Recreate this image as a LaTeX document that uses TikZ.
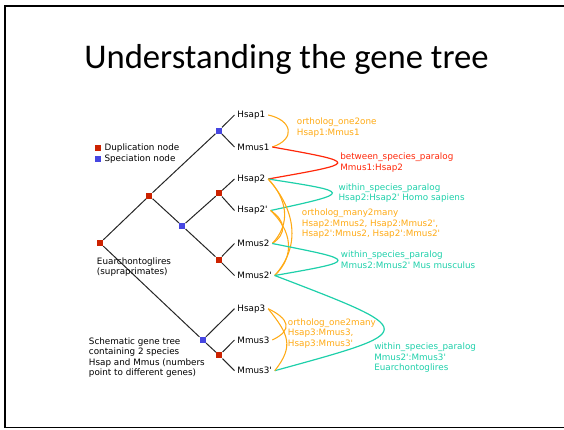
\documentclass[tikz,border=0pt]{standalone}
\usepackage{fontspec}
\setmainfont{DejaVu Sans}[Ligatures=TeXOff]
\newfontfamily\titlefont{Carlito}
\usetikzlibrary{positioning}
\definecolor{dupred}{RGB}{204,34,0}
\definecolor{specblue}{RGB}{70,70,225}
\definecolor{orthocol}{RGB}{255,170,20}
\definecolor{paracol}{RGB}{255,40,10}
\definecolor{withincol}{RGB}{30,208,170}
\tikzset{
 dup/.style={fill=dupred,inner sep=0pt,minimum size=4.5pt},
 spec/.style={fill=specblue,inner sep=0pt,minimum size=4.5pt},
 leaf/.style={anchor=west,inner xsep=2pt,inner ysep=1pt,font=\fontsize{6.6}{7.8}\selectfont},
 note/.style={anchor=west,inner sep=0pt,align=left,font=\fontsize{6.6}{7.9}\selectfont},
 branch/.style={draw=black!85,line width=0.75pt},
 ortho/.style={draw=orthocol,line width=0.8pt},
 betw/.style={draw=paracol,line width=0.9pt},
 within/.style={draw=withincol,line width=0.9pt}
}

\begin{document}
\begin{tikzpicture}[x=0.75pt,y=-0.75pt]
 \useasboundingbox (0,0) rectangle (564,429);
 \draw[line width=1.2pt] (564,5.8) -| (5,427.5) -- (564,427.5);
 \node[font=\titlefont\fontsize{26}{31}\selectfont,anchor=base] (title) at (286.5,68.3) {Understanding the gene tree};

 \node[dup] (legdup) at (98,147.7) {};
 \node[spec] (legspec) at (98,158.7) {};
 \node[note] (legduptxt) at (104.3,147.7) {Duplication node};
 \node[note] (legspectxt) at (104.3,158.7) {Speciation node};

 \node[dup] (root) at (100,243) {};
 \node[dup] (duptop) at (149.3,195.7) {};
 \node[spec] (specA) at (218.7,130.7) {};
 \node[spec] (specB) at (182.3,226) {};
 \node[dup] (dupB) at (219,193.3) {};
 \node[dup] (dupC) at (218.7,259.7) {};
 \node[spec] (specC) at (202.7,340) {};
 \node[dup] (dupD) at (219.3,355.3) {};

 \node[leaf] (hsapA) at (234.5,115) {Hsap1};
 \node[leaf] (mmusA) at (234.5,147) {Mmus1};
 \node[leaf] (hsapB) at (234.5,179) {Hsap2};
 \node[leaf] (hsapBp) at (234.5,210.5) {Hsap2'};
 \node[leaf] (mmusB) at (234.5,243.5) {Mmus2};
 \node[leaf] (mmusBp) at (234.5,275.5) {Mmus2'};
 \node[leaf] (hsapC) at (234.5,308.7) {Hsap3};
 \node[leaf] (mmusC) at (234.5,340) {Mmus3};
 \node[leaf] (mmusCp) at (234.5,370.7) {Mmus3'};

 \draw[branch] (root) -- (duptop);
 \draw[branch] (root) -- (specC);
 \draw[branch] (duptop) -- (specA);
 \draw[branch] (duptop) -- (specB);
 \draw[branch] (specA) -- (hsapA.west);
 \draw[branch] (specA) -- (mmusA.west);
 \draw[branch] (specB) -- (dupB);
 \draw[branch] (specB) -- (dupC);
 \draw[branch] (dupB) -- (hsapB.west);
 \draw[branch] (dupB) -- (hsapBp.west);
 \draw[branch] (dupC) -- (mmusB.west);
 \draw[branch] (dupC) -- (mmusBp.west);
 \draw[branch] (specC) -- (hsapC.west);
 \draw[branch] (specC) -- (dupD);
 \draw[branch] (dupD) -- (mmusC.west);
 \draw[branch] (dupD) -- (mmusCp.west);

 \node[note] (euarch) at (96.7,267.2) {Euarchontoglires\\(supraprimates)};
 \node[note,font=\fontsize{6.6}{7.6}\selectfont] (schema) at (88.7,357.5) {Schematic gene tree\\containing 2 species\\Hsap and Mmus (numbers\\point to different genes)};

 \draw[ortho] (hsapA.east) .. controls +(24,5) and +(24,-8) .. (mmusA.east);
 \draw[betw] (mmusA.east) .. controls +(90,16) and +(90,-16) .. (hsapB.east);
 \draw[within] (hsapB.east) .. controls +(84,13) and +(84,-18) .. (hsapBp.east);
 \draw[ortho] (hsapB.east) .. controls +(19,20) and +(19,-20) .. (mmusB.east);
 \draw[ortho] (hsapB.east) .. controls +(27,30) and +(27,-30) .. (mmusBp.east);
 \draw[ortho] (hsapBp.east) .. controls +(15,10) and +(15,-10) .. (mmusB.east);
 \draw[ortho] (hsapBp.east) .. controls +(21,20) and +(21,-20) .. (mmusBp.east);
 \draw[within] (mmusB.east) .. controls +(86,17) and +(86,-15) .. (mmusBp.east);
 \draw[within] (mmusBp.east) .. controls +(146,56) and +(146,-40) .. (mmusCp.east);
 \draw[ortho] (hsapC.east) .. controls +(21,10) and +(21,-10) .. (mmusC.east);
 \draw[ortho] (hsapC.east) .. controls +(20,25) and +(20,-25) .. (mmusCp.east);

 \node[note,text=orthocol] (lblA) at (296.7,127.7) {ortholog\_one2one\\Hsap1:Mmus1};
 \node[note,text=paracol] (lblB) at (340,162.7) {between\_species\_paralog\\Mmus1:Hsap2};
 \node[note,text=withincol] (lblC) at (338.3,193) {within\_species\_paralog\\Hsap2:Hsap2' Homo sapiens};
 \node[note,text=orthocol] (lblD) at (301.7,223.8) {ortholog\_many2many\\Hsap2:Mmus2, Hsap2:Mmus2',\\Hsap2':Mmus2, Hsap2':Mmus2'};
 \node[note,text=withincol] (lblE) at (340.7,259.7) {within\_species\_paralog\\Mmus2:Mmus2' Mus musculus};
 \node[note,text=orthocol] (lblF) at (287.7,333.1) {ortholog\_one2many\\Hsap3:Mmus3,\\Hsap3:Mmus3'};
 \node[note,text=withincol] (lblG) at (374,357.8) {within\_species\_paralog\\Mmus2':Mmus3'\\Euarchontoglires};
\end{tikzpicture}
\end{document}
